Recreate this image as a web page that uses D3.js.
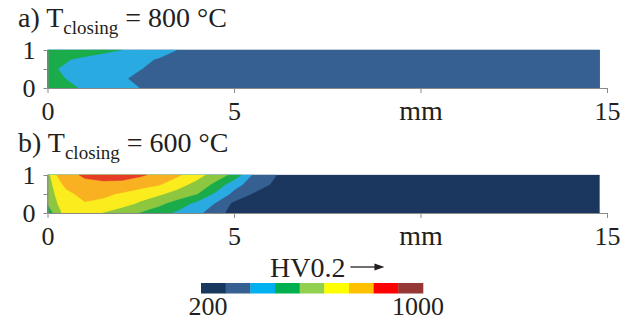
<!DOCTYPE html>
<html><head><meta charset="utf-8">
<script src="https://cdn.jsdelivr.net/npm/d3@7"></script>
<style>
body{margin:0;background:#fff}
svg{display:block}
text{font-family:"Liberation Serif","Times New Roman",serif;fill:#231f20}
</style>
</head><body>
<svg id="chart" width="630" height="329"></svg>
<script>
// ---- data ----
const positions = [0, 0.25, 0.5, 1, 1.5, 2, 2.5, 3, 3.5, 4, 4.5, 5, 5.5, 6, 6.5, 7, 14.8]; // mm
const depths = [1, 0.75, 0.5, 0.25, 0];
// hardness HV0.2, one row per depth (top to bottom), one value per position
const hv800_d100 = [540, 530, 520, 505, 487, 466, 436, 406, 376, 345, 335, 332, 331, 330, 330, 330, 330];
const hv800_d075 = [500, 488, 472, 451, 431, 412, 392, 372, 345, 335, 332, 331, 330, 330, 330, 330, 330];
const hv800_d050 = [485, 468, 458, 438, 418, 399, 380, 350, 338, 333, 331, 330, 330, 330, 330, 330, 330];
const hv800_d025 = [495, 480, 465, 439, 414, 388, 355, 340, 335, 332, 331, 330, 330, 330, 330, 330, 330];
const hv800_d000 = [510, 497, 484, 457, 430, 403, 376, 345, 336, 333, 331, 330, 330, 330, 330, 330, 330];
const hv600_d100 = [610, 735, 772, 845, 870, 865, 835, 794, 746, 678, 605, 530, 370, 305, 250, 245, 240];
const hv600_d075 = [585, 700, 755, 785, 795, 790, 770, 740, 679, 616, 536, 410, 342, 285, 250, 245, 240];
const hv600_d050 = [603, 657, 711, 762, 748, 725, 688, 656, 611, 560, 450, 356, 285, 255, 245, 242, 240];
const hv600_d025 = [560, 640, 700, 727, 715, 680, 630, 577, 515, 444, 374, 270, 250, 245, 243, 241, 240];
const hv600_d000 = [490, 605, 680, 695, 640, 595, 549, 500, 450, 400, 332, 250, 245, 243, 242, 241, 240];

const levels = [200, 288.9, 377.8, 466.7, 555.6, 644.4, 733.3, 822.2, 911.1];
const legendRange = [200, 1000];
const plotColors = ["#1b375f", "#366092", "#29abe2", "#1aab4b", "#8dc63f", "#fbed1d", "#f9b122", "#e63e26", "#953735"];
const legendColors = ["#17375e", "#366092", "#00b0f0", "#00b050", "#92d050", "#ffff00", "#ffc000", "#ff0000", "#953735"];

const xTicks = [0, 5, 10, 15];
const xTickLabels = ["0", "5", "mm", "15"];
const yTicks = [0, 0.5, 1];
const yTickLabels = ["0", "", "1"];

const titlePrefixes = ["a) T", "b) T"];
const titleSubs = ["closing", "closing"];
const titleSuffixes = [" = 800 °C", " = 600 °C"];
const legendTitle = "HV0.2";
const legendTickLabels = ["200", "1000"];

// ---- drawing ----
const svg = d3.select("#chart");
const FONT = 26;
const x = d3.scaleLinear([0, 15], [47.5, 607]);
const panelTops = [50, 175];
const panelH = 38;
const panelData = [
  [hv800_d100, hv800_d075, hv800_d050, hv800_d025, hv800_d000],
  [hv600_d100, hv600_d075, hv600_d050, hv600_d025, hv600_d000]
];

const n = positions.length, m = depths.length;
const uToMm = d3.scaleLinear([0, ...positions.map((_, i) => i + 0.5), n],
                             [positions[0], ...positions, positions[n - 1]]);
const wToDepth = d3.scaleLinear([0, ...depths.map((_, j) => j + 0.5), m],
                                [depths[0], ...depths, depths[m - 1]]);

panelData.forEach((rows, p) => {
  const top = panelTops[p];
  const y = d3.scaleLinear([0, 1], [top + panelH, top]);
  const g = svg.append("g");
  const contours = d3.contours().size([n, m]).thresholds(levels)(rows.flat());
  const proj = d3.geoTransform({
    point(px, py) { this.stream.point(x(uToMm(px)), y(wToDepth(py))); }
  });
  const path = d3.geoPath(proj);
  g.selectAll("path.c").data(contours).join("path")
    .attr("class", "c")
    .attr("d", path)
    .attr("fill", (d, i) => plotColors[i])
    .attr("stroke", (d, i) => plotColors[i])
    .attr("stroke-width", 0.3);

  // x axis
  const xa = svg.append("g").attr("transform", `translate(0,${top + panelH})`)
    .call(d3.axisBottom(x).tickValues(xTicks).tickFormat((d, i) => xTickLabels[i])
      .tickSize(5).tickSizeOuter(0));
  xa.select(".domain").attr("stroke", "#8a8a8a");
  xa.selectAll(".tick line").attr("stroke", "#8a8a8a");
  xa.selectAll(".tick text").attr("y", 32).attr("dy", 0)
    .style("font-size", (d, i) => (xTickLabels[i] === "mm" ? 28 : FONT) + "px")
    .style("font-family", '"Liberation Serif",serif').attr("fill", "#231f20");

  // y axis
  const ya = svg.append("g").attr("transform", `translate(${x(0)},0)`)
    .call(d3.axisLeft(y).tickValues(yTicks).tickFormat((d, i) => yTickLabels[i])
      .tickSize(4).tickSizeOuter(0).tickPadding(8));
  ya.select(".domain").attr("stroke", "#8a8a8a");
  ya.selectAll(".tick line").attr("stroke", "#8a8a8a");
  ya.selectAll(".tick text").attr("dy", "0.34em")
    .style("font-size", FONT + "px").style("font-family", '"Liberation Serif",serif').attr("fill", "#231f20");

  // title
  const t = svg.append("text").attr("x", 18).attr("y", top - 23).style("font-size", "28px");
  t.append("tspan").text(titlePrefixes[p]);
  t.append("tspan").attr("dy", 6.5).style("font-size", "19px").text(titleSubs[p]);
  t.append("tspan").attr("dy", -6.5).text(titleSuffixes[p]);
});

// legend
const lx = d3.scaleLinear(legendRange, [201, 423]);
const edges = [...levels, legendRange[1]];
svg.append("g").selectAll("rect").data(legendColors).join("rect")
  .attr("x", (d, i) => lx(edges[i]))
  .attr("width", (d, i) => lx(edges[i + 1]) - lx(edges[i]) + 0.3)
  .attr("y", 283).attr("height", 10.5)
  .attr("fill", d => d);
svg.append("text").attr("x", lx(legendRange[0]) + 7).attr("y", 315)
  .attr("text-anchor", "middle").style("font-size", FONT + "px").text(legendTickLabels[0]);
svg.append("text").attr("x", lx(legendRange[1]) - 5).attr("y", 315)
  .attr("text-anchor", "middle").style("font-size", FONT + "px").text(legendTickLabels[1]);
const lt = svg.append("text").attr("x", 270).attr("y", 277).style("font-size", "28px").text(legendTitle);
const bb = lt.node().getBBox();
const ax0 = bb.x + bb.width + 5, ay = 267;
svg.append("line").attr("x1", ax0).attr("x2", ax0 + 28).attr("y1", ay).attr("y2", ay)
  .attr("stroke", "#231f20").attr("stroke-width", 1.3);
svg.append("path").attr("d", `M${ax0 + 24},${ay - 3.5}L${ax0 + 34},${ay}L${ax0 + 24},${ay + 3.5}Z`)
  .attr("fill", "#231f20");
</script>
</body></html>
